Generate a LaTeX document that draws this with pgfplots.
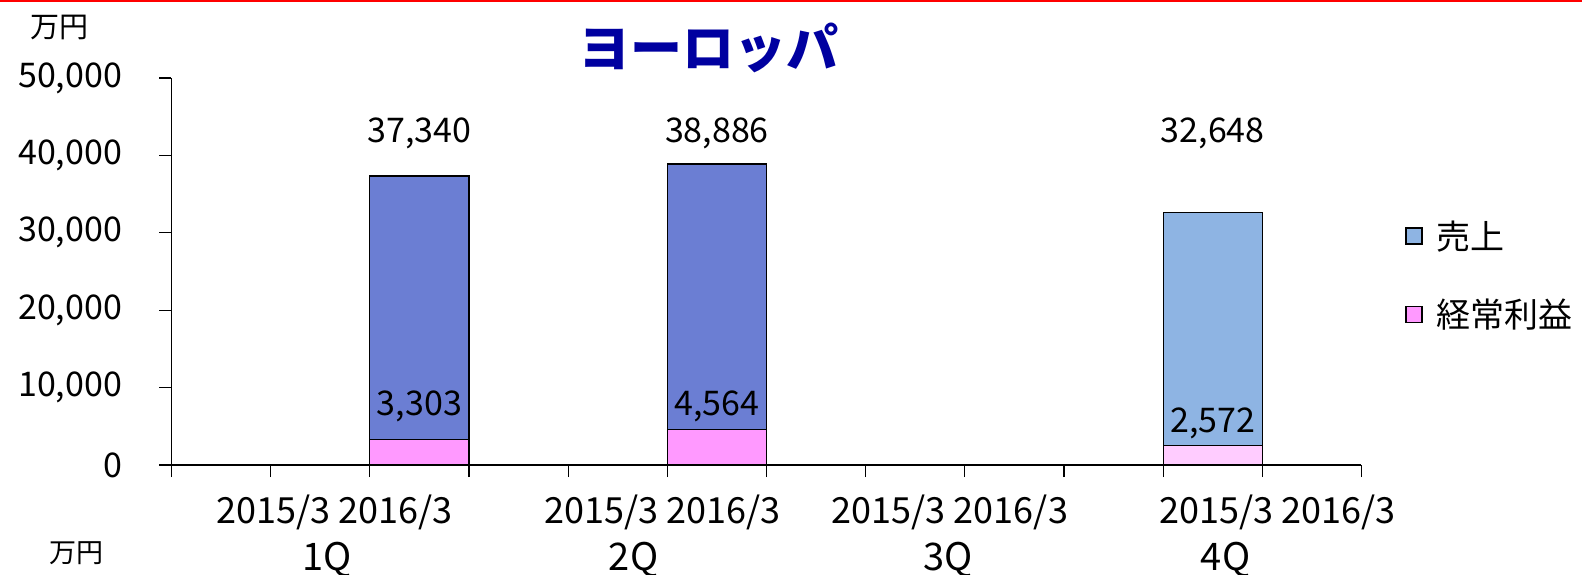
\documentclass[border=0pt]{standalone}
\usepackage{pgfplots}
\pgfplotsset{compat=1.18}
\usepackage{pgfplotstable}
\usepackage{fontspec}
\setmainfont{Noto Sans CJK JP}
\definecolor{sales16}{RGB}{107,126,211}
\definecolor{sales15}{RGB}{142,180,227}
\definecolor{prof16}{RGB}{255,153,255}
\definecolor{prof15}{RGB}{255,204,255}
\definecolor{titleblue}{RGB}{0,0,160}
\pgfplotstableread{
x sales profit
2.5 37340 3303
5.5 38886 4564
}\fy
\pgfplotstableread{
x sales profit
10.5 32648 2572
}\ff
\begin{document}
\begin{tikzpicture}[x=1pt,y=1pt]
\useasboundingbox (0,0) rectangle (1582,-574);
\draw[red, line width=2pt] (0,-1) -- (1582,-1);
\node[font=\fontsize{29}{29}\selectfont] at (59,-27) {万円};
\node[font=\fontsize{27}{27}\selectfont] at (76,-553) {万円};
\node[font=\fontsize{52}{52}\selectfont\bfseries, text=titleblue] at (708,-48) {ヨーロッパ};
\begin{axis}[
  at={(171.5pt,-465pt)}, anchor=south west,
  scale only axis, width=1190pt, height=387pt,
  xmin=0, xmax=12, ymin=0, ymax=50000,
  axis x line=bottom, axis y line=left,
  axis line style={line width=1.6pt, -},
  xtick={0,...,12}, xticklabels={},
  ytick={0,10000,...,50000},
  tick align=outside, major tick length=12pt,
  tick style={line width=1.3pt, black},
  /pgf/number format/assume math mode=true,
  /pgf/number format/1000 sep={,},
  scaled y ticks=false,
  yticklabel style={font=\fontsize{34}{34}\selectfont, xshift=-34pt},
  ybar, bar width=1, bar shift=0pt,
  clip=false,
  legend style={at={(rel axis cs:1.0366,0.636)}, anchor=north west, draw=none, fill=none,
    inner sep=0pt,
    font=\fontsize{34}{34}\selectfont, row sep=44pt, cells={anchor=west},
    /tikz/every odd column/.append style={column sep=12pt}},
  legend image code/.code={\draw[#1,draw=black,line width=1.3pt] (0pt,-8pt) rectangle (16pt,8pt);},
]
\addlegendimage{fill=sales15}
\addlegendentry{売上}
\addlegendimage{fill=prof16}
\addlegendentry{経常利益}
\addplot[fill=sales16, draw=black, line width=1.2pt, forget plot] table[x=x,y=sales] {\fy};
\addplot[fill=prof16, draw=black, line width=1.2pt, forget plot] table[x=x,y=profit] {\fy};
\addplot[fill=sales15, draw=black, line width=1.2pt, forget plot] table[x=x,y=sales] {\ff};
\addplot[fill=prof15, draw=black, line width=1.2pt, forget plot] table[x=x,y=profit] {\ff};
\begin{scope}[font=\fontsize{34}{34}\selectfont]
\node at (axis cs:2.5,42800) {37,340};
\node at (axis cs:5.5,42800) {38,886};
\node at (axis cs:10.5,42800) {32,648};
\node at (axis cs:2.5,7545) {3,303};
\node at (axis cs:5.5,7545) {4,564};
\node at (axis cs:10.5,5323) {2,572};
\end{scope}
\begin{scope}[font=\fontsize{36}{36}\selectfont]
\node at (axis cs:1.64,-6072) {2015/3 2016/3};
\node at (axis cs:4.95,-6072) {2015/3 2016/3};
\node at (axis cs:7.85,-6072) {2015/3 2016/3};
\node at (axis cs:11.15,-6072) {2015/3 2016/3};
\end{scope}
\begin{scope}[font=\fontsize{38}{38}\selectfont]
\node at (axis cs:1.57,-12274) {1Q};
\node at (axis cs:4.66,-12274) {2Q};
\node at (axis cs:7.83,-12274) {3Q};
\node at (axis cs:10.63,-12274) {4Q};
\end{scope}
\end{axis}
\end{tikzpicture}
\end{document}
